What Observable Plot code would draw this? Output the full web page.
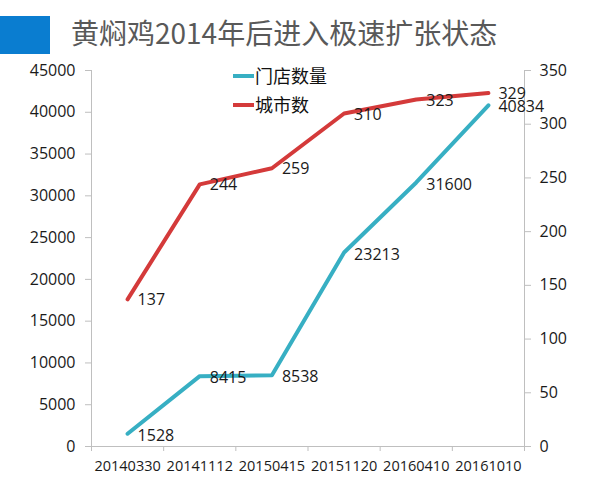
<!DOCTYPE html>
<html><head><meta charset="utf-8">
<script src="https://cdn.jsdelivr.net/npm/d3@7"></script>
<script src="https://cdn.jsdelivr.net/npm/@observablehq/plot@0.6"></script>
<style>
body{margin:0;background:#fff;font-family:"Open Sans","Noto Sans CJK SC",sans-serif;}
#wrap{position:relative;width:600px;height:480px;overflow:hidden;}
#title{height:60px;position:relative;}
#sq{position:absolute;left:0;top:16px;width:50px;height:38px;background:#0a7dd0;}
#tt{position:absolute;left:71px;top:18px;font-size:28px;line-height:28px;color:#595959;font-family:"Noto Sans CJK SC",sans-serif;white-space:nowrap;}
.lg{position:absolute;left:233px;font-size:18px;line-height:18px;font-family:"Noto Sans CJK SC",sans-serif;color:#111;white-space:nowrap;}
.lg i{display:inline-block;width:21px;height:4px;vertical-align:middle;margin-right:1px;position:relative;top:-2px;}
</style>
</head><body>
<div id="wrap">
<div id="title"><div id="sq"></div><div id="tt">黄焖鸡2014年后进入极速扩张状态</div></div>
<div id="chart"></div>
<div class="lg" id="lg1" style="top:66px"><i style="background:#37afc3"></i>门店数量</div>
<div class="lg" id="lg2" style="top:95px"><i style="background:#d43a3a"></i>城市数</div>
</div>
<script>
const dates = ["20140330","20141112","20150415","20151120","20160410","20161010"];
const stores = [1528, 8415, 8538, 23213, 31600, 40834];
const cities = [137, 244, 259, 310, 323, 329];
const leftTicks = [0,5000,10000,15000,20000,25000,30000,35000,40000,45000];
const rightTicks = [0,50,100,150,200,250,300,350];

const k = 45000/350;
const storeData = dates.map((d,i)=>({i, v: stores[i]}));
const cityData = dates.map((d,i)=>({i, v: cities[i]*k, c: cities[i]}));
const teal = "#37afc3", red = "#d43a3a", axisCol = "#bfbfbf", txt = "#1a1a1a";

const chart = Plot.plot({
  width: 600, height: 420,
  marginLeft: 91, marginRight: 76, marginTop: 10, marginBottom: 34,
  style: {fontFamily: '"Open Sans","Noto Sans CJK SC",sans-serif', background: "#fff"},
  x: {type: "linear", domain: [-0.5, 5.5]},
  y: {domain: [0, 45000]},
  marks: [
    Plot.ruleX([-0.5, 5.5], {stroke: axisCol, y1: 0, y2: 45000}),
    Plot.ruleY([0], {stroke: axisCol}),
    Plot.axisY({anchor: "left", ticks: leftTicks, tickFormat: d => String(d), label: null, tickSize: 6, tickPadding: 10, stroke: axisCol, fill: txt, fontSize: 16}),
    Plot.axisY({anchor: "right", ticks: rightTicks.map(v => v*k), tickFormat: d => String(Math.round(d/k)), label: null, tickSize: 6, tickPadding: 9, stroke: axisCol, fill: txt, fontSize: 16}),
    Plot.axisX({ticks: d3.range(-0.5, 6, 1), tickFormat: () => "", label: null, tickSize: 5, stroke: axisCol}),
    Plot.axisX({ticks: dates.map((d,i)=>i), tickFormat: i => dates[i], label: null, tickSize: 0, tickPadding: 14, fill: txt, fontSize: 14.5}),
    Plot.line(cityData, {x: "i", y: "v", stroke: red, strokeWidth: 4}),
    Plot.line(storeData, {x: "i", y: "v", stroke: teal, strokeWidth: 4}),
    Plot.text(cityData, {x: "i", y: "v", text: d => String(d.c), dx: 10, dy: 1, textAnchor: "start", fontSize: 16, fill: txt}),
    Plot.text(storeData, {x: "i", y: "v", text: d => String(d.v), dx: 10, dy: 2, textAnchor: "start", fontSize: 16, fill: txt})
  ]
});
document.getElementById("chart").appendChild(chart);
</script>
</body></html>
